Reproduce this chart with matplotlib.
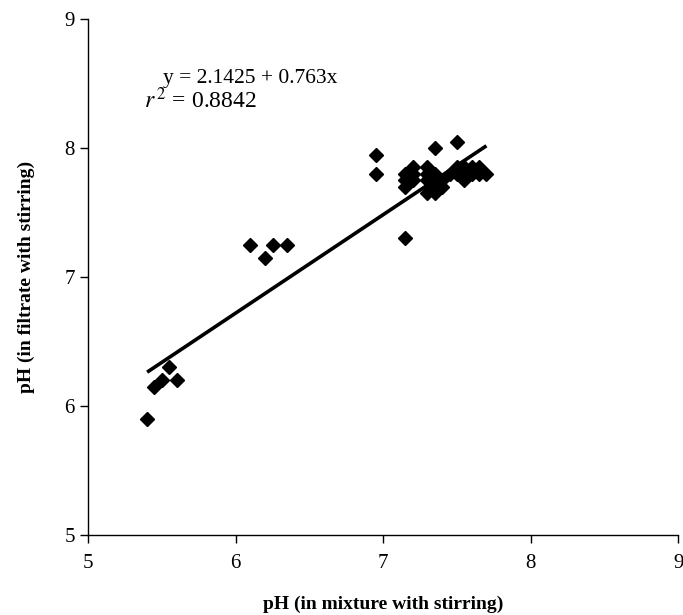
import numpy as np
import matplotlib
matplotlib.use("Agg")
from matplotlib import pyplot as plt

plt.rcParams["font.family"] = ["Liberation Serif", "DejaVu Serif"]
plt.rcParams["mathtext.fontset"] = "stix"

# pH readings
ph_mixture = [5.4, 5.45, 5.5, 5.55, 5.6,
              6.1, 6.2, 6.25, 6.35,
              6.95, 6.95, 7.15, 7.15, 7.15, 7.15, 7.2, 7.2, 7.2,
              7.3, 7.3, 7.3, 7.3, 7.35, 7.35, 7.35, 7.35, 7.4, 7.4,
              7.45, 7.5, 7.5, 7.5, 7.55, 7.55, 7.6, 7.6, 7.65, 7.65, 7.7]
ph_filtrate = [5.9, 6.15, 6.2, 6.3, 6.2,
               7.25, 7.15, 7.25, 7.25,
               7.95, 7.8, 7.3, 7.7, 7.75, 7.8, 7.75, 7.8, 7.85,
               7.65, 7.75, 7.8, 7.85, 7.65, 7.7, 7.8, 8.0, 7.7, 7.75,
               7.8, 7.85, 7.8, 8.05, 7.75, 7.85, 7.8, 7.85, 7.8, 7.85, 7.8]

intercept = 2.1425
slope = 0.763
r2 = 0.8842
ticks = [5, 6, 7, 8, 9]

fig = plt.figure(figsize=(6.83, 6.15), dpi=100)
ax = fig.add_axes([0.129, 0.130, 0.864, 0.839])

ax.plot(ph_mixture, ph_filtrate, "D", color="black", markersize=7, zorder=3)

x_fit = np.array([min(ph_mixture), max(ph_mixture)])
ax.plot(x_fit, intercept + slope * x_fit, color="black", linewidth=2.6,
        solid_capstyle="butt", zorder=2)

ax.text(5.51, 8.54, f"y = {intercept} + {slope}x", fontsize=15.5, va="center")
ax.text(5.38, 8.37, r"$r^{\,2}$" + f" = {r2}", fontsize=17, va="center")

ax.set_xlim(5, 9)
ax.set_ylim(5, 9)
ax.set_xticks(ticks)
ax.set_yticks(ticks)
ax.tick_params(direction="out", length=6, width=1, labelsize=15, colors="black")
ax.tick_params(axis="x", pad=8)
ax.tick_params(axis="y", pad=3.5)
for side in ["top", "right"]:
    ax.spines[side].set_visible(False)
for side in ["left", "bottom"]:
    ax.spines[side].set_linewidth(1)

ax.set_xlabel("pH (in mixture with stirring)", fontsize=14, fontweight="bold", labelpad=16)
ax.set_ylabel("pH (in filtrate with stirring)", fontsize=14, fontweight="bold", labelpad=21)

fig.savefig("out.png", dpi=100)
